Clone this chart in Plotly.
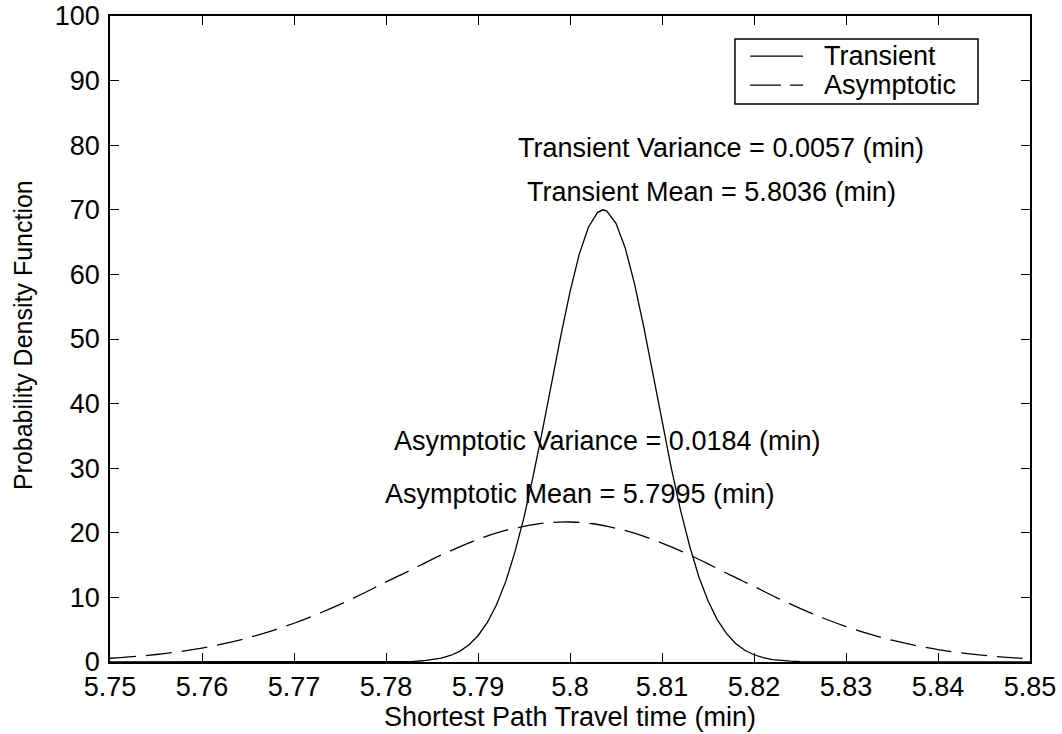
import plotly.graph_objects as go

# Transient curve
x_transient = [5.75, 5.78, 5.781, 5.782, 5.783, 5.784, 5.785, 5.786, 5.787, 5.788, 5.789,
               5.790, 5.791, 5.792, 5.793, 5.794, 5.795, 5.796, 5.797, 5.798, 5.799,
               5.800, 5.801, 5.802, 5.803, 5.8036, 5.804, 5.805, 5.806, 5.807, 5.808, 5.809,
               5.810, 5.811, 5.812, 5.813, 5.814, 5.815, 5.816, 5.817, 5.818, 5.819,
               5.820, 5.821, 5.822, 5.823, 5.824, 5.825, 5.826, 5.827, 5.828, 5.85]
y_transient = [0.0, 0.01, 0.03, 0.05, 0.10, 0.19, 0.34, 0.60, 1.01, 1.65, 2.63,
               4.07, 6.08, 8.83, 12.4, 16.96, 22.4, 28.8, 35.8, 43.2, 50.5,
               57.3, 63.1, 67.3, 69.6, 70.0, 69.8, 67.9, 64.1, 58.6, 52.0, 44.7,
               37.3, 30.1, 23.6, 18.0, 13.2, 9.47, 6.57, 4.42, 2.88, 1.82,
               1.12, 0.66, 0.38, 0.21, 0.12, 0.06, 0.03, 0.01, 0.0, 0.0]

# Asymptotic curve
x_asymptotic = [5.75, 5.7525, 5.755, 5.7575, 5.76, 5.7625, 5.765, 5.7675, 5.77, 5.7725,
                5.775, 5.7775, 5.78, 5.7825, 5.785, 5.7875, 5.79, 5.7925, 5.795, 5.7975,
                5.80, 5.8025, 5.805, 5.8075, 5.81, 5.8125, 5.815, 5.8175, 5.82, 5.8225,
                5.825, 5.8275, 5.83, 5.8325, 5.835, 5.8375, 5.84, 5.8425, 5.845, 5.8475, 5.85]
y_asymptotic = [0.58, 0.83, 1.16, 1.60, 2.16, 2.87, 3.74, 4.78, 6.00, 7.39,
                8.93, 10.6, 12.4, 14.1, 15.9, 17.5, 19.0, 20.2, 21.0, 21.55,
                21.67, 21.4, 20.7, 19.7, 18.4, 16.9, 15.2, 13.4, 11.7, 9.93,
                8.30, 6.81, 5.49, 4.34, 3.37, 2.57, 1.92, 1.41, 1.02, 0.72, 0.50]

x_tickvals = [5.75, 5.76, 5.77, 5.78, 5.79, 5.80, 5.81, 5.82, 5.83, 5.84, 5.85]
x_ticktext = ["5.75", "5.76", "5.77", "5.78", "5.79", "5.8", "5.81", "5.82", "5.83", "5.84", "5.85"]
y_tickvals = [0, 10, 20, 30, 40, 50, 60, 70, 80, 90, 100]

series_names = ["Transient", "Asymptotic"]

labels = ["Transient Variance = 0.0057 (min)", "Transient Mean = 5.8036 (min)",
          "Asymptotic Variance = 0.0184 (min)", "Asymptotic Mean = 5.7995 (min)"]
label_x = [5.8164, 5.8154, 5.8040, 5.8010]
label_y = [79.6, 72.8, 34.2, 26.0]

FONT = "Liberation Sans, Arial, sans-serif"
CURVE_DASH = "26px,10px"

fig = go.Figure()
fig.add_trace(go.Scatter(x=x_transient, y=y_transient, mode="lines", name=series_names[0],
                         line=dict(color="black", width=1.3), showlegend=False))
fig.add_trace(go.Scatter(x=x_asymptotic, y=y_asymptotic, mode="lines", name=series_names[1],
                         line=dict(color="black", width=1.3, dash=CURVE_DASH),
                         line_shape="spline", showlegend=False))

for t, xx, yy in zip(labels, label_x, label_y):
    fig.add_annotation(x=xx, y=yy, text=t, showarrow=False, xref="x", yref="y",
                       font=dict(size=27, color="black", family=FONT))

# Legend box (MATLAB style)
fig.add_shape(type="rect", xref="paper", yref="paper", x0=0.6793, x1=0.9435, y0=0.8638, y1=0.9644,
              line=dict(color="black", width=1.5), fillcolor="white", layer="above")
fig.add_shape(type="line", xref="paper", yref="paper", x0=0.6957, x1=0.7533, y0=0.938, y1=0.938,
              line=dict(color="black", width=1.3), layer="above")
fig.add_shape(type="line", xref="paper", yref="paper", x0=0.6957, x1=0.7533, y0=0.893, y1=0.893,
              line=dict(color="black", width=1.3, dash="31px,9px"), layer="above")
for name, yy in zip(series_names, [0.938, 0.893]):
    fig.add_annotation(x=0.7739, y=yy, xref="paper", yref="paper", text=name, showarrow=False,
                       xanchor="left", yanchor="middle",
                       font=dict(size=27, color="black", family=FONT))

# y-axis title (placed explicitly)
fig.add_annotation(x=-0.0946, y=0.506, xref="paper", yref="paper",
                   text="Probability Density Function", textangle=-90, showarrow=False,
                   xanchor="center", yanchor="middle",
                   font=dict(size=25, color="black", family=FONT))

axis_common = dict(showline=True, linecolor="black", linewidth=1.5, mirror="allticks",
                   ticks="inside", ticklen=9, tickcolor="black", tickwidth=1.2,
                   showgrid=False, zeroline=False, automargin=False,
                   ticklabeloverflow="allow",
                   tickfont=dict(size=27, color="black", family=FONT))

fig.update_xaxes(range=[5.75, 5.85], tickvals=x_tickvals, ticktext=x_ticktext,
                 title=dict(text="Shortest Path Travel time (min)", standoff=2,
                            font=dict(size=27, color="black", family=FONT)),
                 ticklabelstandoff=0, **axis_common)
fig.update_yaxes(range=[0, 100], tickvals=y_tickvals,
                 ticklabelstandoff=3, **axis_common)

fig.update_layout(
    width=1062, height=734,
    margin=dict(l=110, r=32, t=16, b=72),
    plot_bgcolor="white", paper_bgcolor="white",
    showlegend=False,
)

# remove the page's default 8px body margin so the figure fills the window exactly
fig.write_html("out.html", config={"displayModeBar": False},
               post_script="document.body.style.margin='0px';")
